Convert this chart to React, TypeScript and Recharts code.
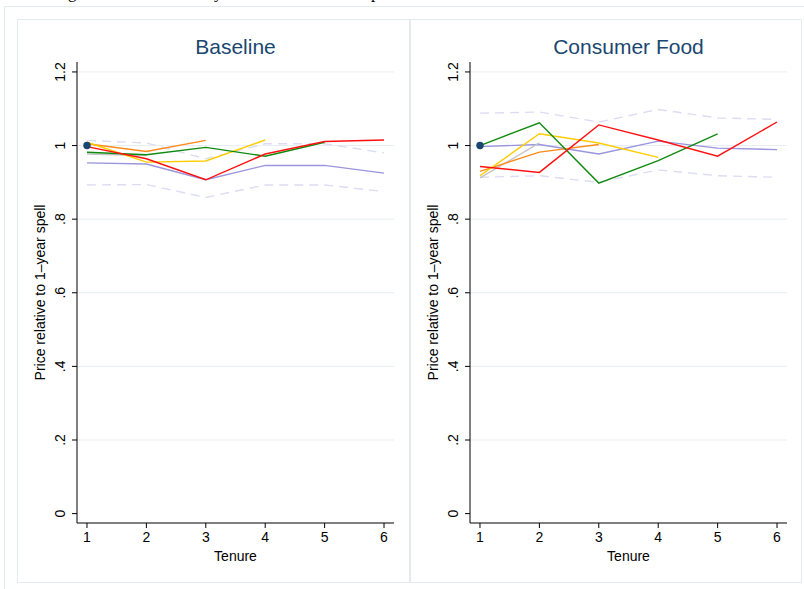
import { ComposedChart, Line, XAxis, YAxis, ReferenceLine } from "recharts";

// tenure (years) and axis ticks
const tenure = [1, 2, 3, 4, 5, 6];
const yTicks = [0, 0.2, 0.4, 0.6, 0.8, 1, 1.2];
const gridVals = [0.2, 0.4, 0.6, 0.8, 1, 1.2];
const anchor = [1];

// Baseline panel
const basePurple = [0.953, 0.95, 0.907, 0.946, 0.946, 0.925];
const baseUpper = [1.014, 1.007, 0.964, 1.005, 1.005, 0.98];
const baseLower = [0.893, 0.894, 0.859, 0.893, 0.893, 0.875];
const baseGray = [0.977, 0.973];
const baseOrange = [1.005, 0.984, 1.014];
const baseYellow = [1.009, 0.955, 0.958, 1.015];
const baseGreen = [0.982, 0.975, 0.995, 0.971, 1.009];
const baseRed = [0.997, 0.964, 0.907, 0.977, 1.011, 1.015];

// Consumer Food panel
const foodPurple = [0.997, 1.003, 0.977, 1.012, 0.993, 0.989];
const foodUpper = [1.088, 1.091, 1.064, 1.098, 1.075, 1.071];
const foodLower = [0.914, 0.918, 0.9, 0.934, 0.918, 0.914];
const foodGray = [0.912, 1.007];
const foodOrange = [0.93, 0.982, 1.003];
const foodYellow = [0.918, 1.032, 1.007, 0.968];
const foodGreen = [1.0, 1.062, 0.898, 0.959, 1.032];
const foodRed = [0.943, 0.927, 1.056, 1.015, 0.971, 1.064];

const FONT = "'Liberation Sans', Arial, Helvetica, sans-serif";
const NAVY = "#1a476f";
const FRAME = "#e3ebee";
const BAND = "#dcdcf2";

const toPts = (vals: number[]) => vals.map((v, i) => ({ t: tenure[i], v }));

// stata style labels: .2 .4 ... 1 1.2
const fmt = (v: number) => (v === 0 ? "0" : String(Number(v.toFixed(1))).replace(/^0\./, "."));

function YTick(props: any) {
  const { x, y, payload } = props;
  const bx = x - 5;
  return (
    <text
      x={bx}
      y={y}
      transform={`rotate(-90 ${bx} ${y})`}
      textAnchor="middle"
      fontSize={14}
      fontFamily={FONT}
      fill="#000"
    >
      {fmt(payload.value)}
    </text>
  );
}

function YTitle(props: any) {
  const vb = props.viewBox || { x: 0, y: 43, width: 60, height: 461 };
  const cx = vb.x + 28;
  const cy = vb.y + vb.height / 2;
  return (
    <text
      x={cx}
      y={cy}
      transform={`rotate(-90 ${cx} ${cy})`}
      textAnchor="middle"
      fontSize={14}
      fontFamily={FONT}
      fill="#000"
    >
      Price relative to 1–year spell
    </text>
  );
}

function XTitle(props: any) {
  const vb = props.viewBox || { x: 60, y: 504, width: 317, height: 60 };
  return (
    <text
      x={vb.x + vb.width / 2}
      y={vb.y + 37.5}
      textAnchor="middle"
      fontSize={14}
      fontFamily={FONT}
      fill="#000"
    >
      Tenure
    </text>
  );
}

interface PanelProps {
  left: number;
  width: number;
  title: string;
  purple: number[];
  upper: number[];
  lower: number[];
  gray: number[];
  orange: number[];
  yellow: number[];
  green: number[];
  red: number[];
}

function Panel(p: PanelProps) {
  const rightMargin = p.width - 60 - 317;
  const lines = [
    { vals: p.upper, color: BAND, dash: "9 6" },
    { vals: p.lower, color: BAND, dash: "9 6" },
    { vals: p.purple, color: "#9a95dd" },
    { vals: p.gray, color: "#c4c4c4" },
    { vals: p.orange, color: "#ff8a1c" },
    { vals: p.yellow, color: "#ffcc00" },
    { vals: p.green, color: "#0f8a0f" },
    { vals: p.red, color: "#ff1010" },
  ];
  return (
    <div style={{ position: "absolute", left: p.left, top: 19, width: p.width, height: 564 }}>
      <div
        style={{
          position: "absolute",
          left: 60,
          width: 317,
          top: 17,
          textAlign: "center",
          fontFamily: FONT,
          fontSize: 21,
          lineHeight: "21px",
          color: NAVY,
        }}
      >
        {p.title}
      </div>
      <ComposedChart
        width={p.width}
        height={564}
        margin={{ top: 43, right: rightMargin, bottom: 0, left: 0 }}
      >
        <XAxis
          dataKey="t"
          type="number"
          domain={[0.832, 6.168]}
          ticks={tenure}
          allowDataOverflow
          height={60}
          tickSize={5}
          tickMargin={4}
          stroke="#000"
          tick={{ fontSize: 14, fontFamily: FONT, fill: "#000" }}
          label={<XTitle />}
        />
        <YAxis
          type="number"
          domain={[-0.0255, 1.227]}
          ticks={yTicks}
          allowDataOverflow
          width={60}
          tickSize={5}
          stroke="#000"
          tick={<YTick />}
          label={<YTitle />}
        />
        {gridVals.map((g) => (
          <ReferenceLine key={g} y={g} stroke="#e6eef1" strokeWidth={1} />
        ))}
        {lines.map((l, i) => (
          <Line
            key={i}
            data={toPts(l.vals)}
            dataKey="v"
            stroke={l.color}
            strokeWidth={1.4}
            strokeDasharray={l.dash}
            dot={false}
            isAnimationActive={false}
          />
        ))}
        <Line
          data={toPts(anchor)}
          dataKey="v"
          stroke="none"
          dot={{ r: 3.7, fill: NAVY, stroke: NAVY, strokeWidth: 0 }}
          isAnimationActive={false}
        />
      </ComposedChart>
    </div>
  );
}

export default function App() {
  return (
    <div
      style={{
        position: "absolute",
        left: 0,
        top: 0,
        width: 804,
        height: 589,
        overflow: "hidden",
        background: "#fff",
      }}
    >
      {/* bottom of the caption line above the figure, cut off as in the reference */}
      <div style={{ position: "absolute", top: -16, left: 0, fontFamily: "'Liberation Serif', serif", fontSize: 17, lineHeight: "17px" }}>
        <span style={{ position: "absolute", left: 68 }}>g</span>
        <span style={{ position: "absolute", left: 214 }}>y</span>
        <span style={{ position: "absolute", left: 371 }}>p</span>
      </div>
      <div style={{ position: "absolute", left: 4, top: 6, width: 830, height: 620, border: `1px solid ${FRAME}` }} />
      <div style={{ position: "absolute", left: 17, top: 19, width: 393, height: 564, border: `1px solid ${FRAME}`, boxSizing: "border-box" }} />
      <div style={{ position: "absolute", left: 410, top: 19, width: 392, height: 564, border: `1px solid ${FRAME}`, boxSizing: "border-box" }} />
      <Panel
        left={17}
        width={393}
        title="Baseline"
        purple={basePurple}
        upper={baseUpper}
        lower={baseLower}
        gray={baseGray}
        orange={baseOrange}
        yellow={baseYellow}
        green={baseGreen}
        red={baseRed}
      />
      <Panel
        left={410}
        width={392}
        title="Consumer Food"
        purple={foodPurple}
        upper={foodUpper}
        lower={foodLower}
        gray={foodGray}
        orange={foodOrange}
        yellow={foodYellow}
        green={foodGreen}
        red={foodRed}
      />
    </div>
  );
}
